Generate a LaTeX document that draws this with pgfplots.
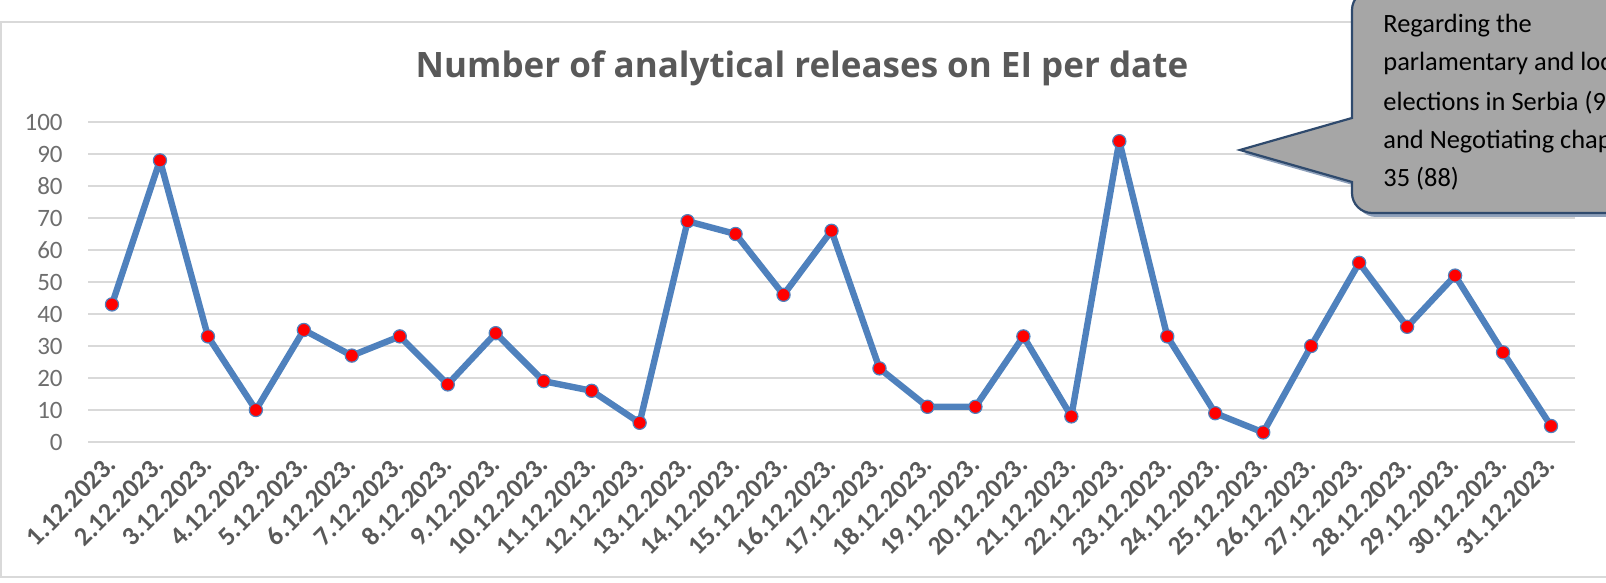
\documentclass[border=0pt]{standalone}
\usepackage{fontspec}
\setmainfont{Carlito}
\newfontfamily\titlefont{Open Sans}
\usepackage{pgfplots}
\pgfplotsset{compat=1.18}
\definecolor{linebl}{HTML}{4F81BD}
\definecolor{gridg}{HTML}{D9D9D9}
\definecolor{txtg}{HTML}{595959}
\definecolor{tickg}{HTML}{6E6E6E}
\definecolor{callfill}{HTML}{A6A6A6}
\definecolor{callbord}{HTML}{2F4A6D}
\definecolor{shadowc}{HTML}{8EA0BA}
\begin{document}
\begin{tikzpicture}
\useasboundingbox (0,0) rectangle (803pt,291.5pt);
\draw[gridg, line width=1.2pt] (0.6pt,3pt) rectangle (830pt,280.5pt);
\node[anchor=base, text=txtg, inner sep=0pt, font=\titlefont\fontsize{17.5}{20}\selectfont\bfseries] at (401pt,252.5pt) {Number of analytical releases on EI per date};
\begin{axis}[at={(44pt,70.5pt)}, anchor=south west, scale only axis,
  width=743.5pt, height=160pt,
  xmin=0.5, xmax=31.5, ymin=0, ymax=100,
  ytick={0,10,...,100}, xtick={1,...,31},
  xticklabels={1.12.2023.,2.12.2023.,3.12.2023.,4.12.2023.,5.12.2023.,6.12.2023.,7.12.2023.,8.12.2023.,9.12.2023.,10.12.2023.,11.12.2023.,12.12.2023.,13.12.2023.,14.12.2023.,15.12.2023.,16.12.2023.,17.12.2023.,18.12.2023.,19.12.2023.,20.12.2023.,21.12.2023.,22.12.2023.,23.12.2023.,24.12.2023.,25.12.2023.,26.12.2023.,27.12.2023.,28.12.2023.,29.12.2023.,30.12.2023.,31.12.2023.},
  axis line style={draw=none}, major tick style={draw=none},
  ymajorgrids, grid style={gridg, line width=1.2pt},
  /pgf/number format/assume math mode=true,
  yticklabel style={font=\fontsize{12.5}{14}\selectfont, text=tickg, anchor=east, inner sep=0pt, xshift=-12.5pt},
  xticklabel style={font=\fontsize{13.2}{15}\selectfont\bfseries, text=txtg, yshift=-9pt, rotate=45, anchor=east, inner sep=0pt},
  clip=false]
\addplot[linebl, line width=3.2pt, line join=round, mark=*, mark size=3.3pt, mark options={fill=red, draw=linebl, line width=0.6pt}] coordinates {
(1,43) (2,88) (3,33) (4,10) (5,35) (6,27) (7,33) (8,18) (9,34) (10,19)
(11,16) (12,6) (13,69) (14,65) (15,46) (16,66) (17,23) (18,11) (19,11) (20,33)
(21,8) (22,94) (23,33) (24,9) (25,3) (26,30) (27,56) (28,36) (29,52) (30,28) (31,5)};
\end{axis}
\begin{scope}
\clip (0,0) rectangle (803pt,291.5pt);
\fill[shadowc] (678pt,230.5pt) -- (622pt,214.5pt) -- (678pt,198.5pt) [rounded corners=10pt] -- (678pt,183pt) -- (832pt,183pt) -- (832pt,294.5pt) -- (678pt,294.5pt) [sharp corners] -- cycle;
\filldraw[fill=callfill, draw=callbord, line width=1.1pt] (676pt,232.5pt) -- (620pt,216.5pt) -- (676pt,200.5pt) [rounded corners=10pt] -- (676pt,185pt) -- (830pt,185pt) -- (830pt,296.5pt) -- (676pt,296.5pt) [sharp corners] -- cycle;
\begin{scope}[every node/.style={anchor=base west, inner sep=0pt, font=\fontsize{13.2}{15}\selectfont, text=black}]
\node at (691.5pt,275pt) {Regarding the};
\node at (691.5pt,256pt) {parlamentary and local};
\node at (691.5pt,236pt) {elections in Serbia (94)};
\node at (691.5pt,217pt) {and Negotiating chapter};
\node at (691.5pt,198pt) {35 (88)};
\end{scope}
\end{scope}
\end{tikzpicture}
\end{document}
